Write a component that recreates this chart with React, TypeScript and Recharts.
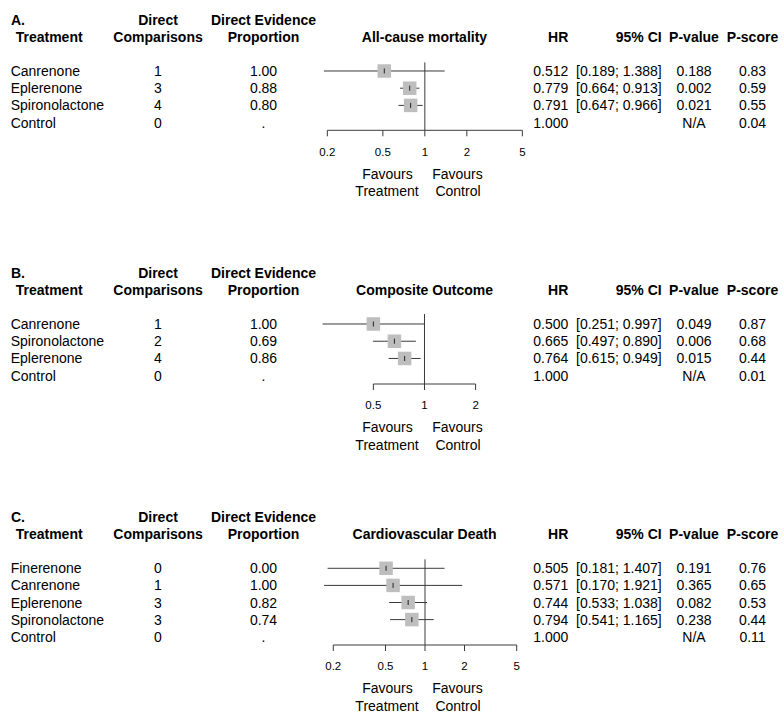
import React from 'react';
import { ScatterChart, Scatter, XAxis, YAxis, ErrorBar, ReferenceLine, Customized } from 'recharts';

// ---------- Panel A: All-cause mortality ----------
const treatmentsA = ['Canrenone', 'Eplerenone', 'Spironolactone', 'Control'];
const directComparisonsA = ['1', '3', '4', '0'];
const directEvidenceA = ['1.00', '0.88', '0.80', '.'];
const hrA = [0.512, 0.779, 0.791, 1.0];
const ciLowerA = [0.189, 0.664, 0.647, null];
const ciUpperA = [1.388, 0.913, 0.966, null];
const pValueA = ['0.188', '0.002', '0.021', 'N/A'];
const pScoreA = ['0.83', '0.59', '0.55', '0.04'];
const ticksA = [0.2, 0.5, 1, 2, 5];

// ---------- Panel B: Composite Outcome ----------
const treatmentsB = ['Canrenone', 'Spironolactone', 'Eplerenone', 'Control'];
const directComparisonsB = ['1', '2', '4', '0'];
const directEvidenceB = ['1.00', '0.69', '0.86', '.'];
const hrB = [0.5, 0.665, 0.764, 1.0];
const ciLowerB = [0.251, 0.497, 0.615, null];
const ciUpperB = [0.997, 0.89, 0.949, null];
const pValueB = ['0.049', '0.006', '0.015', 'N/A'];
const pScoreB = ['0.87', '0.68', '0.44', '0.01'];
const ticksB = [0.5, 1, 2];

// ---------- Panel C: Cardiovascular Death ----------
const treatmentsC = ['Finerenone', 'Canrenone', 'Eplerenone', 'Spironolactone', 'Control'];
const directComparisonsC = ['0', '1', '3', '3', '0'];
const directEvidenceC = ['0.00', '1.00', '0.82', '0.74', '.'];
const hrC = [0.505, 0.571, 0.744, 0.794, 1.0];
const ciLowerC = [0.181, 0.17, 0.533, 0.541, null];
const ciUpperC = [1.407, 1.921, 1.038, 1.165, null];
const pValueC = ['0.191', '0.365', '0.082', '0.238', 'N/A'];
const pScoreC = ['0.76', '0.65', '0.53', '0.44', '0.11'];
const ticksC = [0.2, 0.5, 1, 2, 5];

const FONT = '"Liberation Sans", Arial, Helvetica, sans-serif';
const TXT = '#000';
const LINE = '#3a3a3a';
const SQUARE = '#bebebe';

type Row = {
  row: number;
  name: string;
  dc: string;
  de: string;
  hr: number;
  lo: number | null;
  hi: number | null;
  pv: string;
  ps: string;
  err: number[] | null;
};

function buildRows(
  t: string[], dc: string[], de: string[], hr: number[],
  lo: (number | null)[], hi: (number | null)[], pv: string[], ps: string[]
): Row[] {
  return t.map((name, i) => ({
    row: i,
    name,
    dc: dc[i],
    de: de[i],
    hr: hr[i],
    lo: lo[i],
    hi: hi[i],
    pv: pv[i],
    ps: ps[i],
    err: lo[i] == null || hi[i] == null ? null : [hr[i] - (lo[i] as number), (hi[i] as number) - hr[i]],
  }));
}

const rowsA = buildRows(treatmentsA, directComparisonsA, directEvidenceA, hrA, ciLowerA, ciUpperA, pValueA, pScoreA);
const rowsB = buildRows(treatmentsB, directComparisonsB, directEvidenceB, hrB, ciLowerB, ciUpperB, pValueB, pScoreB);
const rowsC = buildRows(treatmentsC, directComparisonsC, directEvidenceC, hrC, ciLowerC, ciUpperC, pValueC, pScoreC);

// Column layout (page/chart x coordinates)
const COL_NAME = 10.7;
const COL_DC = 158;
const COL_DE = 263.5;
const COL_HR_R = 568.3;
const COL_CI_R = 661.7;
const COL_PV = 694;
const COL_PS = 752.5;
const PLOT_CENTER = 424.5;

const RowText = (props: any) => {
  const { cy, payload } = props;
  if (cy == null || !payload) return null;
  const y = cy + 5;
  const common = { fontFamily: FONT, fontSize: 14, fill: TXT };
  return (
    <g>
      <text x={COL_NAME} y={y} {...common}>{payload.name}</text>
      <text x={COL_DC} y={y} textAnchor="middle" {...common}>{payload.dc}</text>
      <text x={COL_DE} y={y} textAnchor="middle" {...common}>{payload.de}</text>
      <text x={COL_HR_R} y={y} textAnchor="end" {...common}>{payload.hr.toFixed(3)}</text>
      {payload.lo != null && (
        <text x={COL_CI_R} y={y} textAnchor="end" {...common}>
          {`[${payload.lo.toFixed(3)}; ${payload.hi.toFixed(3)}]`}
        </text>
      )}
      <text x={COL_PV} y={y} textAnchor="middle" {...common}>{payload.pv}</text>
      <text x={COL_PS} y={y} textAnchor="middle" {...common}>{payload.ps}</text>
    </g>
  );
};

const SquareShape = (props: any) => {
  const { cx, cy } = props;
  if (cx == null || cy == null) return null;
  const s = 13.5;
  return (
    <g>
      <rect x={cx - s / 2} y={cy - s / 2} width={s} height={s} fill={SQUARE} />
      <line x1={cx} x2={cx} y1={cy - 2.5} y2={cy + 2.5} stroke="#222" strokeWidth={1} />
    </g>
  );
};

const AxisTick = (props: any) => {
  const { x, y, payload } = props;
  return (
    <text x={x} y={y + 19.3} textAnchor="middle" fontFamily={FONT} fontSize={11.5} fill={TXT}>
      {String(payload.value)}
    </text>
  );
};

type PanelCfg = {
  letter: string;
  title: string;
  rows: Row[];
  ticks: number[];
  top: number;
  height: number;
  plotTop: number;
  plotBottom: number;
  xLeft: number;
  xRight: number;
  xDomain: [number, number];
  yDomain: [number, number];
  head1: number;
  head2: number;
};

const Headers = ({ cfg }: { cfg: PanelCfg }) => {
  const b = { fontFamily: FONT, fontSize: 14, fontWeight: 700, fill: TXT };
  const n = { fontFamily: FONT, fontSize: 14, fill: TXT };
  const y1 = cfg.head1 + 5;
  const y2 = cfg.head2 + 5;
  const fy1 = cfg.plotBottom + 48.3;
  const fy2 = cfg.plotBottom + 65.5;
  return (
    <g>
      <text x={11} y={y1} {...b}>{cfg.letter}</text>
      <text x={15.7} y={y2} {...b}>Treatment</text>
      <text x={COL_DC} y={y1} textAnchor="middle" {...b}>Direct</text>
      <text x={COL_DC} y={y2} textAnchor="middle" {...b}>Comparisons</text>
      <text x={COL_DE} y={y1} textAnchor="middle" {...b}>Direct Evidence</text>
      <text x={COL_DE} y={y2} textAnchor="middle" {...b}>Proportion</text>
      <text x={PLOT_CENTER} y={y2} textAnchor="middle" {...b}>{cfg.title}</text>
      <text x={COL_HR_R} y={y2} textAnchor="end" {...b}>HR</text>
      <text x={COL_CI_R} y={y2} textAnchor="end" {...b}>95% CI</text>
      <text x={COL_PV} y={y2} textAnchor="middle" {...b}>P-value</text>
      <text x={COL_PS} y={y2} textAnchor="middle" {...b}>P-score</text>
      <text x={387.5} y={fy1} textAnchor="middle" {...n}>Favours</text>
      <text x={387} y={fy2} textAnchor="middle" {...n}>Treatment</text>
      <text x={457.5} y={fy1} textAnchor="middle" {...n}>Favours</text>
      <text x={458} y={fy2} textAnchor="middle" {...n}>Control</text>
    </g>
  );
};

const AXIS_H = 30;

const Panel = ({ cfg }: { cfg: PanelCfg }) => {
  const estRows = cfg.rows.filter((r) => r.err != null);
  const margin = {
    top: cfg.plotTop,
    bottom: cfg.height - cfg.plotBottom - AXIS_H,
    left: cfg.xLeft,
    right: 784 - cfg.xRight,
  };
  const t0 = cfg.ticks[0];
  const t1 = cfg.ticks[cfg.ticks.length - 1];
  return (
    <div style={{ position: 'absolute', left: 0, top: cfg.top }}>
      <ScatterChart width={784} height={cfg.height} margin={margin}>
        <XAxis
          type="number"
          dataKey="hr"
          scale="log"
          domain={cfg.xDomain}
          ticks={cfg.ticks}
          interval={0}
          axisLine={false}
          tickLine={{ stroke: LINE }}
          stroke={LINE}
          tickSize={6}
          tickMargin={0}
          height={AXIS_H}
          tick={<AxisTick />}
        />
        <YAxis
          type="number"
          dataKey="row"
          domain={cfg.yDomain}
          reversed
          hide
          width={0}
        />
        <ReferenceLine
          segment={[{ x: t0, y: cfg.yDomain[1] }, { x: t1, y: cfg.yDomain[1] }]}
          stroke={LINE}
          strokeWidth={1}
          ifOverflow="visible"
        />
        <ReferenceLine x={1} stroke={LINE} strokeWidth={1} ifOverflow="visible" />
        <Scatter data={estRows} shape={<SquareShape />} isAnimationActive={false}>
          <ErrorBar dataKey="err" direction="x" width={0} stroke={LINE} strokeWidth={1} isAnimationActive={false} />
        </Scatter>
        <Scatter data={cfg.rows} shape={<RowText />} isAnimationActive={false} />
        <Customized component={<Headers cfg={cfg} />} />
      </ScatterChart>
    </div>
  );
};

const panelA: PanelCfg = {
  letter: 'A.', title: 'All-cause mortality', rows: rowsA, ticks: ticksA,
  top: 0, height: 240, plotTop: 62.4, plotBottom: 130.3,
  xLeft: 309.9, xRight: 533.4, xDomain: [0.15, 6], yDomain: [-0.5, 3.448],
  head1: 20, head2: 36.7,
};
const panelB: PanelCfg = {
  letter: 'B.', title: 'Composite Outcome', rows: rowsB, ticks: ticksB,
  top: 240, height: 250, plotTop: 74, plotBottom: 144,
  xLeft: 305.8, xRight: 505.5, xDomain: [0.2, 3], yDomain: [-0.58, 3.482],
  head1: 32.7, head2: 50,
};
const panelC: PanelCfg = {
  letter: 'C.', title: 'Cardiovascular Death', rows: rowsC, ticks: ticksC,
  top: 490, height: 230, plotTop: 69.3, plotBottom: 155,
  xLeft: 316.9, xRight: 527.1, xDomain: [0.15, 6], yDomain: [-0.526, 4.485],
  head1: 26.7, head2: 44,
};

export default function App() {
  return (
    <div style={{ position: 'absolute', left: 0, top: 0, width: 784, height: 720, background: '#fff', overflow: 'hidden' }}>
      <Panel cfg={panelA} />
      <Panel cfg={panelB} />
      <Panel cfg={panelC} />
    </div>
  );
}
